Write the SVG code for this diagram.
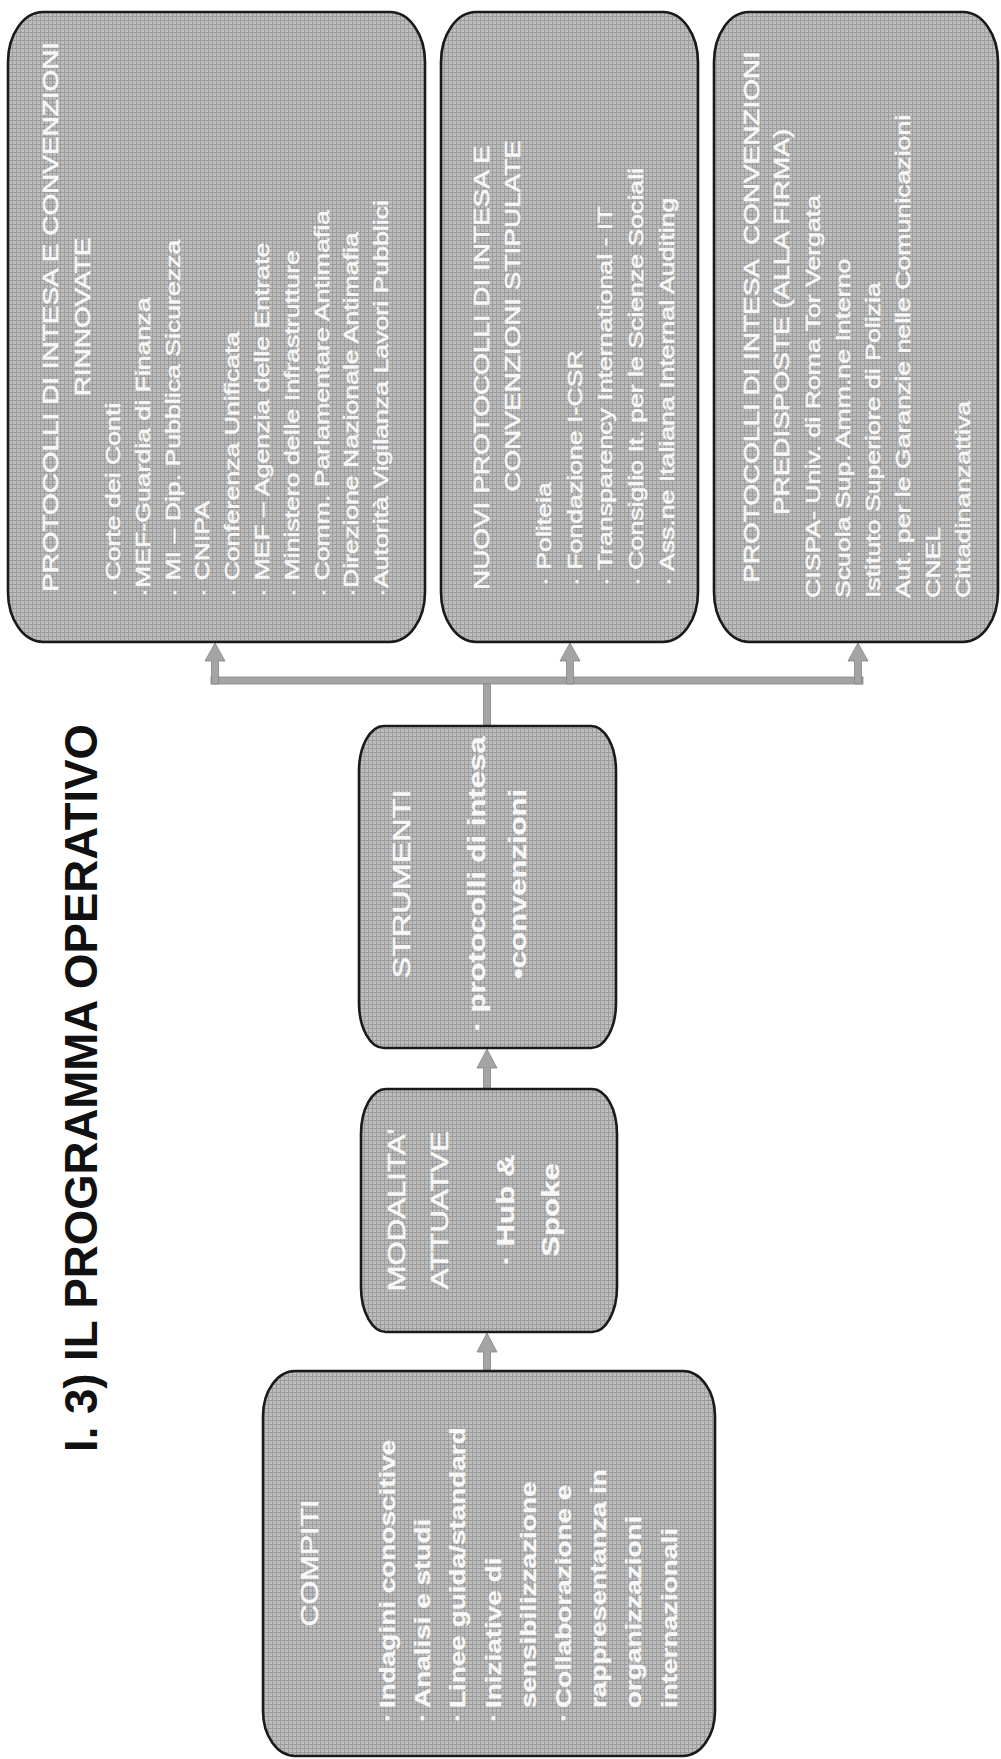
<svg xmlns="http://www.w3.org/2000/svg" width="1001" height="1759" viewBox="0 0 1001 1759">
<style>
.box{fill:url(#ht);stroke:#1a1a1a;stroke-width:2.6}
.t{font-family:"Liberation Sans",Arial,sans-serif;fill:#f8f8f8;stroke:#f8f8f8;stroke-width:0.45}
.h{font-size:22px}
.li{font-size:21px}
.b{font-weight:bold;stroke-width:0.2}
.mid{text-anchor:middle}
.title{font-family:"Liberation Sans",Arial,sans-serif;font-weight:bold;font-size:46px;fill:#111}
.con{fill:#a4a4a4;stroke:#848484;stroke-width:0.8}
</style>
<defs>
<pattern id="ht" width="4" height="4" patternUnits="userSpaceOnUse">
<rect width="4" height="4" fill="#bdbdbd"/>
<path d="M0 0.5H4M0.5 0V4" stroke="#9c9c9c" stroke-width="1"/>
</pattern>
</defs>
<rect width="1001" height="1759" fill="#ffffff"/>

<text id="title" class="title" transform="rotate(-90)" x="-1452" y="97" textLength="728" lengthAdjust="spacingAndGlyphs">I. 3) IL PROGRAMMA OPERATIVO</text>

<g id="connectors">
<rect class="con" x="211" y="677" width="652" height="7"/>
<polygon class="con" points="211.5,684 211.5,661 205,661 215,643 225,661 218.5,661 218.5,684"/>
<polygon class="con" points="566.5,684 566.5,661 560,661 570,643 580,661 573.5,661 573.5,684"/>
<polygon class="con" points="854.5,684 854.5,661 848,661 858,643 868,661 861.5,661 861.5,684"/>
<rect class="con" x="483.5" y="684" width="7" height="42"/>
<polygon class="con" points="483.5,1089 483.5,1068 477,1068 487,1049 497,1068 490.5,1068 490.5,1089"/>
<polygon class="con" points="483.5,1371 483.5,1352 477,1352 487,1333 497,1352 490.5,1352 490.5,1371"/>
</g>

<g id="node-rinnovate">
<rect class="box" x="8" y="12" width="417" height="630" rx="35" ry="50"/>
<g class="t" transform="rotate(-90) scale(1.27,1)">
<text class="h mid" x="-249.6" y="58">PROTOCOLLI DI INTESA E CONVENZIONI</text>
<text class="h mid" x="-249.6" y="90">RINNOVATE</text>
<g class="li">
<text x="-470" y="120">· Corte dei Conti</text>
<text x="-470" y="150">·MEF-Guardia di Finanza</text>
<text x="-470" y="180">· MI – Dip. Pubblica Sicurezza</text>
<text x="-470" y="209">· CNIPA</text>
<text x="-470" y="239">· Conferenza Unificata</text>
<text x="-470" y="269">· MEF – Agenzia delle Entrate</text>
<text x="-470" y="299">· Ministero delle Infrastrutture</text>
<text x="-470" y="329">· Comm. Parlamentare Antimafia</text>
<text x="-470" y="358">·Direzione Nazionale Antimafia</text>
<text x="-470" y="388">·Autorità Vigilanza Lavori Pubblici</text>
</g>
</g>
</g>

<g id="node-stipulate">
<rect class="box" x="441" y="12" width="257" height="630" rx="35" ry="50"/>
<g class="t" transform="rotate(-90) scale(1.27,1)">
<text class="h" x="-464.6" y="489">NUOVI PROTOCOLLI DI INTESA E</text>
<text class="h mid" x="-248.8" y="520">CONVENZIONI STIPULATE</text>
<g class="li">
<text x="-461.4" y="551">· Politeia</text>
<text x="-461.4" y="582">· Fondazione I-CSR</text>
<text x="-461.4" y="612">· Transparency International - IT</text>
<text x="-461.4" y="643">· Consiglio It. per le Scienze Sociali</text>
<text x="-461.4" y="674">· Ass.ne Italiana Internal Auditing</text>
</g>
</g>
</g>

<g id="node-predisposte">
<rect class="box" x="714" y="12" width="284" height="630" rx="35" ry="50"/>
<g class="t" transform="rotate(-90) scale(1.27,1)">
<text class="h mid" x="-249.6" y="759" xml:space="preserve">PROTOCOLLI DI INTESA  CONVENZIONI</text>
<text class="h mid" x="-253.5" y="789">PREDISPOSTE (ALLA FIRMA)</text>
<g class="li">
<text x="-470.9" y="820">CISPA- Univ. di Roma Tor Vergata</text>
<text x="-470.9" y="850">Scuola Sup. Amm.ne Interno</text>
<text x="-470.9" y="880">Istituto Superiore di Polizia</text>
<text x="-470.9" y="910">Aut. per le Garanzie nelle Comunicazioni</text>
<text x="-470.9" y="940">CNEL</text>
<text x="-470.9" y="970">Cittadinanzattiva</text>
</g>
</g>
</g>

<g id="node-strumenti">
<rect class="box" x="359" y="726" width="257" height="322" rx="25" ry="45"/>
<g class="t mid" transform="rotate(-90) scale(1.35,1)">
<text x="-654.8" y="410" style="font-size:24px">STRUMENTI</text>
<text class="b" x="-654.8" y="485" style="font-size:23px">· protocolli di intesa</text>
<text class="b" x="-654.8" y="526" style="font-size:23px">•convenzioni</text>
</g>
</g>

<g id="node-modalita">
<rect class="box" x="361" y="1089" width="256" height="243" rx="25" ry="45"/>
<g class="t mid" transform="rotate(-90) scale(1.3,1)" style="font-size:24px">
<text x="-930.8" y="405">MODALITA'</text>
<text x="-930.8" y="448">ATTUATVE</text>
<text class="b" x="-930.8" y="514">· Hub &amp;</text>
<text class="b" x="-930.8" y="559">Spoke</text>
</g>
</g>

<g id="node-compiti">
<rect class="box" x="263" y="1371" width="452" height="385" rx="32" ry="45"/>
<g class="t" transform="rotate(-90) scale(1.27,1)">
<text class="mid" x="-1230.7" y="318" style="font-size:24px">COMPITI</text>
<g class="b" style="font-size:22px">
<text x="-1355.9" y="395">·</text>
<text x="-1355.9" y="430">·</text>
<text x="-1355.9" y="465">·</text>
<text x="-1355.9" y="501">·</text>
<text x="-1355.9" y="571">·</text>
<text x="-1344.9" y="395">Indagini conoscitive</text>
<text x="-1344.9" y="430">Analisi e studi</text>
<text x="-1344.9" y="465">Linee guida/standard</text>
<text x="-1344.9" y="501">Iniziative di</text>
<text x="-1344.9" y="536">sensibilizzazione</text>
<text x="-1344.9" y="571">Collaborazione e</text>
<text x="-1344.9" y="606">rappresentanza in</text>
<text x="-1344.9" y="641">organizzazioni</text>
<text x="-1344.9" y="677">internazionali</text>
</g>
</g>
</g>
</svg>
